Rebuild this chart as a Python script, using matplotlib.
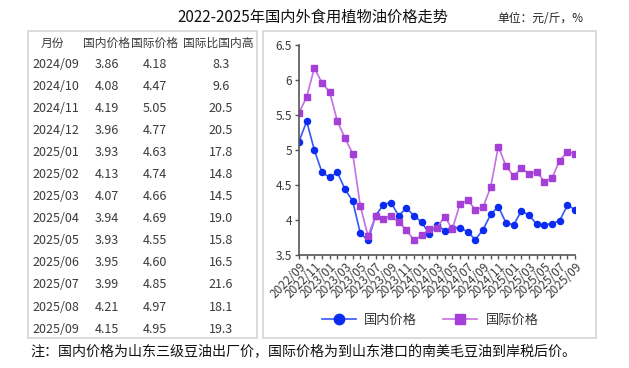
import matplotlib
matplotlib.use("Agg")
import matplotlib.pyplot as plt
from matplotlib.patches import Rectangle
import pandas as pd

plt.rcParams['font.family'] = ['Noto Sans CJK SC', 'DejaVu Sans']

# monthly prices, 2022/09 - 2025/09 (yuan / jin)
months = [p.strftime('%Y/%m') for p in pd.period_range('2022-09', '2025-09', freq='M')]
domestic = [5.12, 5.41, 5.00, 4.68, 4.61, 4.68, 4.44, 4.27, 3.81, 3.71,
            4.06, 4.22, 4.25, 4.06, 4.17, 4.06, 3.97, 3.80, 3.93, 3.85,
            3.89, 3.89, 3.83, 3.72, 3.86, 4.08, 4.19, 3.96, 3.93, 4.13,
            4.07, 3.94, 3.93, 3.95, 3.99, 4.21, 4.15]
international = [5.53, 5.76, 6.17, 5.96, 5.83, 5.41, 5.17, 4.95, 4.20, 3.77,
                 4.06, 4.02, 4.06, 3.97, 3.86, 3.71, 3.78, 3.87, 3.89, 4.05,
                 3.87, 4.23, 4.28, 4.15, 4.18, 4.47, 5.05, 4.77, 4.63, 4.74,
                 4.66, 4.69, 4.55, 4.60, 4.85, 4.97, 4.95]

# table on the left
table_header = ['月份', '国内价格', '国际价格', '国际比国内高']
table_months = ['2024/09', '2024/10', '2024/11', '2024/12', '2025/01', '2025/02',
                '2025/03', '2025/04', '2025/05', '2025/06', '2025/07', '2025/08', '2025/09']
table_domestic = ['3.86', '4.08', '4.19', '3.96', '3.93', '4.13', '4.07',
                  '3.94', '3.93', '3.95', '3.99', '4.21', '4.15']
table_international = ['4.18', '4.47', '5.05', '4.77', '4.63', '4.74', '4.66',
                       '4.69', '4.55', '4.60', '4.85', '4.97', '4.95']
table_gap = ['8.3', '9.6', '20.5', '20.5', '17.8', '14.8', '14.5',
             '19.0', '15.8', '16.5', '21.6', '18.1', '19.3']

W, H = 629, 368
fig = plt.figure(figsize=(W / 100, H / 100), dpi=100)


def fx(px):
    return px / W


def fy(py):
    return 1 - py / H


# title and unit
fig.text(fx(313), fy(17), '2022-2025年国内外食用植物油价格走势', ha='center', va='center',
         fontsize=11, color='#111111')
fig.text(fx(583), fy(19), '单位：元/斤，%', ha='right', va='center', fontsize=8.5, color='#222222')

# panel boxes
for x0, x1 in [(28, 257), (263, 596)]:
    fig.patches.append(Rectangle((fx(x0), fy(338)), fx(x1) - fx(x0), fy(31) - fy(338),
                                 transform=fig.transFigure, fill=False,
                                 edgecolor='#d4d4d4', linewidth=1.2))

# table text
col_x = [52, 107, 155, 218]
for x, h in zip(col_x, table_header):
    fig.text(fx(x), fy(43), h, ha='center', va='center', fontsize=8.5, color='#3a3a3a')
row_y0, row_dy = 64, 22.1
for i in range(len(table_months)):
    y = fy(row_y0 + i * row_dy)
    fig.text(fx(32), y, table_months[i], ha='left', va='center', fontsize=9, color='#3a3a3a')
    fig.text(fx(col_x[1]), y, table_domestic[i], ha='center', va='center', fontsize=9, color='#3a3a3a')
    fig.text(fx(col_x[2]), y, table_international[i], ha='center', va='center', fontsize=9, color='#3a3a3a')
    fig.text(fx(col_x[3] + 3), y, table_gap[i], ha='center', va='center', fontsize=9, color='#3a3a3a')

# line chart
ax = fig.add_axes([fx(299), fy(255), fx(575) - fx(299), fy(45) - fy(255)])
x = list(range(len(months)))
ax.plot(x, domestic, color='#3558f5', lw=1.2, marker='o', ms=4.4,
        mfc='#0b2cf0', mec='#0b2cf0', label='国内价格')
ax.plot(x, international, color='#c46fe4', lw=1.2, marker='s', ms=4.2,
        mfc='#a43fd8', mec='#a43fd8', label='国际价格')

ax.set_xlim(0, len(months) - 1)
ax.set_ylim(3.5, 6.5)
ax.set_yticks([3.5, 4, 4.5, 5, 5.5, 6, 6.5])
ax.set_yticklabels(['3.5', '4', '4.5', '5', '5.5', '6', '6.5'])
ax.set_xticks(x)
ax.set_xticklabels([m if i % 2 == 0 else '' for i, m in enumerate(months)],
                   rotation=45, ha='right', rotation_mode='anchor')
for s in ['top', 'right']:
    ax.spines[s].set_visible(False)
for s in ['left', 'bottom']:
    ax.spines[s].set_color('#555555')
    ax.spines[s].set_linewidth(1.2)
ax.tick_params(axis='both', color='#555555', length=3, width=1, labelcolor='#3a3a3a')
ax.tick_params(axis='y', labelsize=8.5, pad=2)
ax.tick_params(axis='x', labelsize=8.5, pad=1)
ax.patch.set_alpha(0)

leg = fig.legend(loc='center', bbox_to_anchor=(fx(430), fy(320)), ncol=2, frameon=False,
                 fontsize=9.5, handlelength=2.6, columnspacing=2.0, markerscale=1.7,
                 handletextpad=0.6)
for t in leg.get_texts():
    t.set_color('#333333')

# footnote
fig.text(fx(30), fy(352), '注：国内价格为山东三级豆油出厂价，国际价格为到山东港口的南美毛豆油到岸税后价。',
         ha='left', va='center', fontsize=10.1, color='#111111')

fig.savefig('out.png', dpi=100, facecolor='white')
